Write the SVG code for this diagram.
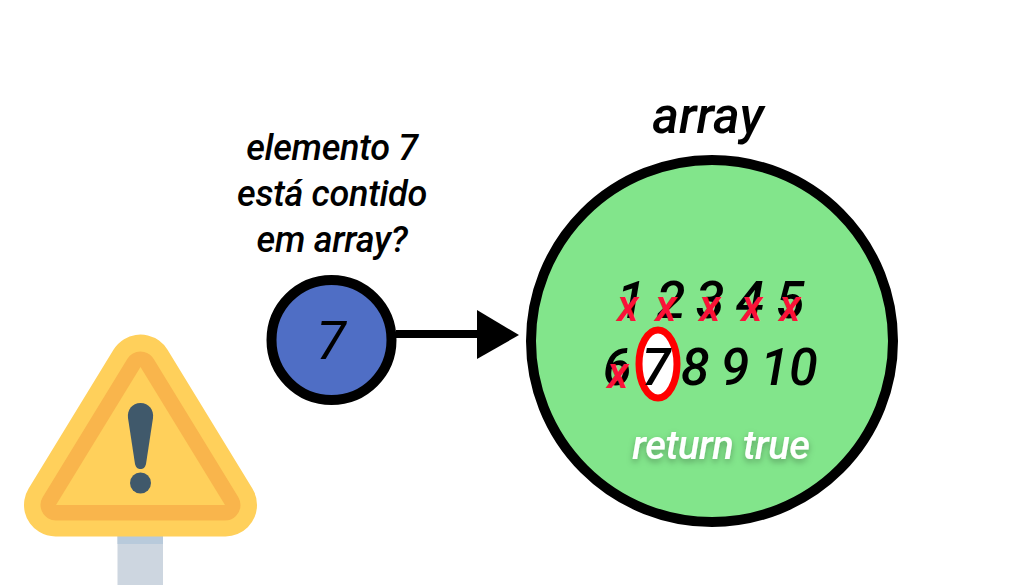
<svg xmlns="http://www.w3.org/2000/svg" width="1024" height="585" viewBox="0 0 1024 585">
<defs>
<style>
text{font-family:Roboto,"Liberation Sans",sans-serif;font-style:italic;fill:#000;text-anchor:middle;font-weight:500}
.q{font-size:36px;letter-spacing:-0.3px}
.n{font-size:52px}
.x{font-size:44px;fill:#fb1238;font-weight:500}
</style>
<filter id="sh" x="-10%" y="-30%" width="120%" height="170%"><feDropShadow dx="0" dy="3" stdDeviation="3" flood-color="#000" flood-opacity="0.3"/></filter>
</defs>
<rect width="1024" height="585" fill="#fff"/>
<g id="warning">
<rect x="117.500" y="530" width="45.500" height="55" fill="#cdd6e0"/>
<rect x="117.500" y="530" width="45.500" height="14" fill="#b8cadb"/>
<polygon points="140.500,366 55.500,505 225.500,505" fill="#ffd05b" stroke="#ffd05b" stroke-width="63" stroke-linejoin="round"/>
<polygon points="140.500,367 56,505 225,505" fill="#ffd05b" stroke="#f9b54c" stroke-width="31" stroke-linejoin="round"/>
<polygon points="140.500,367 56,505 225,505" fill="#ffd05b"/>
<path d="M140.500 403C149 403 154 410 153 418L146 464C145 468 143 469 140.500 469C138 469 136 468 135 464L128 418C127 410 132 403 140.500 403Z" fill="#40596b"/>
<circle cx="140.500" cy="483" r="10.500" fill="#40596b"/>
</g>
<g id="question">
<text class="q" x="332" y="160">elemento 7</text>
<text class="q" x="332" y="206">está contido</text>
<text class="q" x="332" y="252">em array?</text>
</g>
<g id="connectors">
<line x1="396" y1="334" x2="480" y2="334" stroke="#000" stroke-width="8"/>
<polygon points="477,310 519,335 477,359" fill="#000"/>
</g>
<g id="element">
<circle cx="331.500" cy="340" r="60" fill="#4f6ec5" stroke="#000" stroke-width="10"/>
<text x="331" y="359" style="font-size:54px;font-weight:400">7</text>
</g>
<g id="array">
<text x="708" y="133" style="font-size:51px">array</text>
<circle cx="712" cy="341" r="181" fill="#82e58b" stroke="#000" stroke-width="10"/>
<text class="n" x="631" y="318">1</text>
<text class="n" x="671" y="318">2</text>
<text class="n" x="710" y="318">3</text>
<text class="n" x="750" y="318">4</text>
<text class="n" x="790" y="318">5</text>
<text class="n" x="617" y="385">6</text>
<ellipse cx="658" cy="364" rx="19" ry="34" fill="#fff" stroke="#ff0000" stroke-width="7"/>
<text class="n" x="656" y="385">7</text>
<text class="n" x="695" y="385">8</text>
<text class="n" x="735" y="385">9</text>
<text class="n" x="789" y="385">10</text>
<text class="x" x="628" y="321">x</text>
<text class="x" x="666" y="321">x</text>
<text class="x" x="710" y="321">x</text>
<text class="x" x="752" y="321">x</text>
<text class="x" x="790" y="321">x</text>
<text class="x" x="618" y="388">x</text>
<text x="721" y="459" filter="url(#sh)" style="font-size:40px;fill:#fff;letter-spacing:-0.5px">return true</text>
</g>
</svg>
